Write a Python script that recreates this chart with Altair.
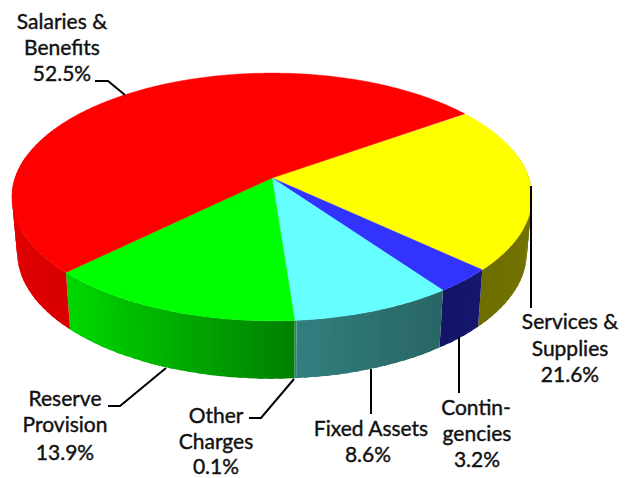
import math
import altair as alt
import numpy as np

# ---- data ----
categories = ["Services & Supplies", "Contingencies", "Fixed Assets", "Other Charges", "Reserve Provision", "Salaries & Benefits"]
shares = [21.6, 3.2, 8.6, 0.1, 13.9, 52.5]
top_colors = ["#ffff00", "#3333ff", "#66ffff", "#66ffff", "#00ff00", "#ff0000"]

label_lines = [
    ["Services &", "Supplies", "21.6%"],
    ["Contin-", "gencies", "3.2%"],
    ["Fixed Assets", "8.6%"],
    ["Other", "Charges", "0.1%"],
    ["Reserve", "Provision", "13.9%"],
    ["Salaries &", "Benefits", "52.5%"],
]
# layout (page pixels)
label_x = [[570, 570, 570], [476, 477, 477], [371, 368], [216, 216, 216], [65, 65, 65], [62, 62, 62]]
label_y = [[329, 356, 382], [415, 441, 467], [436, 462], [423, 449, 474], [406, 432, 460], [29, 55, 81]]
leaders = [
    [(531, 186), (531, 308)],
    [(459, 337), (459, 393)],
    [(371, 369), (371, 414)],
    [(249, 418), (261, 418), (294, 379)],
    [(108, 406), (120, 406), (166, 368)],
    [(95, 81), (108, 81), (125, 95)],
]
W, H = 618, 470
CX, CY, RX, RY, P = 272.0, 178.0, 257.0, 121.0, 0.153
START = 34.9
DEPTH = 55.0
shade_x = [10, 63, 293, 440, 480, 530]
shade_v = [0.88, 0.85, 0.50, 0.40, 0.43, 0.45]


def top(t):
    s = 1 / (1 + P * math.sin(t))
    return CX + RX * math.cos(t) * s, CY - RY * math.sin(t) * s


def bottom(t):
    x, y = top(t)
    return CX + 0.98 * (x - CX), CY + 1.02 * (y - CY) + DEPTH


def feature(ring, color):
    return {"type": "Feature", "geometry": {"type": "Polygon", "coordinates": [[list(p) for p in ring]]},
            "properties": {"color": color}}


def shaded(color, f):
    r, g, b = int(color[1:3], 16), int(color[3:5], 16), int(color[5:7], 16)
    return "#%02x%02x%02x" % (round(r * f), round(g * f), round(b * f))


edges = [math.radians(START - 3.6 * v) for v in np.cumsum([0] + shares)]
top_feats, side_feats = [], []
for a0, a1, col in zip(edges[:-1], edges[1:], top_colors):
    n = max(2, int(abs(a1 - a0) / math.radians(0.5)))
    ts = np.linspace(a0, a1, n + 1)
    top_feats.append(feature([(CX, CY)] + [top(t) for t in ts] + [(CX, CY)], col))
    step = 4
    for i in range(0, n, step):
        t0, t1 = ts[i], ts[min(i + step, n)]
        t2 = ts[min(i + 2 * step, n)]  # overlap the next strip so no seams show
        if math.sin(t0) > 0.16 and math.sin(t1) > 0.16:
            continue
        xm = top((t0 + t1) / 2)[0]
        f = float(np.interp(xm, shade_x, shade_v))
        mid = (t1 + t2) / 2
        ring = [top(t0), top(t1), top(mid), bottom(mid), bottom(t1), bottom(t0), top(t0)]
        side_feats.append(feature(ring, shaded(col, f)))

xs = alt.X("x:Q", scale=alt.Scale(domain=[8, 8 + W], range=[0, W]), axis=None)
ys = alt.Y("y:Q", scale=alt.Scale(domain=[8, 8 + H], range=[0, H]), axis=None)
identity = {"type": "identity", "scale": 1, "translate": [-8, -8]}

# painted in order: each strip is overlapped by the following one
side_layers = alt.Chart(alt.Data(values=[dict(f, properties=dict(f["properties"], k=i)) for i, f in enumerate(side_feats)])).mark_geoshape(
    strokeWidth=0
).encode(
    fill=alt.Fill("properties.color:N", scale=None, legend=None),
    order=alt.Order("properties.k:Q"),
).project(**identity)
tops = alt.Chart(alt.Data(values=top_feats)).mark_geoshape(strokeWidth=0.4).encode(
    fill=alt.Fill("properties.color:N", scale=None, legend=None),
    stroke=alt.Stroke("properties.color:N", scale=None, legend=None),
).project(**identity)

leader_rows = [{"id": i, "o": j, "x": p[0], "y": p[1]} for i, path in enumerate(leaders) for j, p in enumerate(path)]
lines = alt.Chart(alt.Data(values=leader_rows)).mark_line(color="black", strokeWidth=2).encode(
    x=xs, y=ys, detail="id:N", order="o:Q")

text_rows = []
for lines_i, xs_i, ys_i in zip(label_lines, label_x, label_y):
    for s, x, y in zip(lines_i, xs_i, ys_i):
        text_rows.append({"t": s, "x": x, "y": y})
texts = alt.Chart(alt.Data(values=text_rows)).mark_text(
    font="Lato", fontSize=21, align="center", baseline="alphabetic", color="#111111", stroke="#111111", strokeWidth=0.4
).encode(x=xs, y=ys, text="t:N")

chart = alt.layer(side_layers, tops, lines, texts).resolve_scale(fill="independent", stroke="independent").properties(
    width=W, height=H, padding=0, autosize=alt.AutoSizeParams(type="none")
).configure_view(stroke=None)
chart.save("out.html", embed_options={"renderer": "svg", "actions": False})
